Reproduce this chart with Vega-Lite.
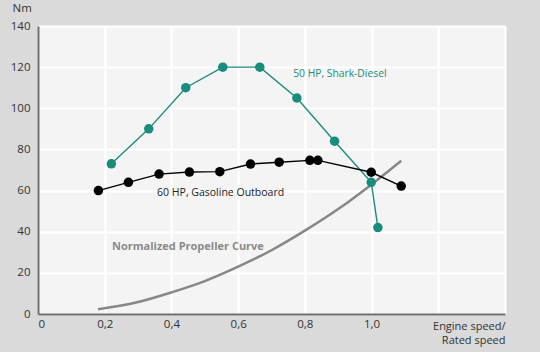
{
  "$schema": "https://vega.github.io/schema/vega-lite/v6.json",
  "width": 467,
  "height": 288,
  "autosize": {"type": "none"},
  "padding": {"left": 38, "top": 26, "right": 35, "bottom": 38},
  "background": "#dadada",
  "view": {"fill": "#f4f4f4", "stroke": null},
  "config": {
    "font": "Open Sans",
    "axis": {"labelFont": "Open Sans", "titleFont": "Open Sans", "labelColor": "#333333", "titleColor": "#333333", "labelFontSize": 11.5, "titleFontSize": 11, "titleFontWeight": "normal", "ticks": false, "domainColor": "#6e6e6e", "gridColor": "#ffffff", "gridWidth": 2}
  },
  "datasets": {
    "curves": [
      {"series": "diesel", "x": 0.22, "y": 73},
      {"series": "diesel", "x": 0.332, "y": 90},
      {"series": "diesel", "x": 0.443, "y": 110},
      {"series": "diesel", "x": 0.554, "y": 120},
      {"series": "diesel", "x": 0.665, "y": 120},
      {"series": "diesel", "x": 0.776, "y": 105},
      {"series": "diesel", "x": 0.889, "y": 84},
      {"series": "diesel", "x": 0.999, "y": 64},
      {"series": "diesel", "x": 1.019, "y": 42},
      {"series": "gas", "x": 0.181, "y": 60},
      {"series": "gas", "x": 0.271, "y": 64},
      {"series": "gas", "x": 0.363, "y": 68},
      {"series": "gas", "x": 0.454, "y": 69},
      {"series": "gas", "x": 0.545, "y": 69.2},
      {"series": "gas", "x": 0.637, "y": 72.9},
      {"series": "gas", "x": 0.723, "y": 73.8},
      {"series": "gas", "x": 0.815, "y": 74.7},
      {"series": "gas", "x": 0.839, "y": 74.7},
      {"series": "gas", "x": 0.999, "y": 68.9},
      {"series": "gas", "x": 1.089, "y": 62.2}
    ],
    "prop": [
      {"x": 0.18, "y": 2.3},
      {"x": 0.3, "y": 5.8},
      {"x": 0.4, "y": 10.5},
      {"x": 0.5, "y": 16},
      {"x": 0.6, "y": 23},
      {"x": 0.7, "y": 31},
      {"x": 0.8, "y": 40.5},
      {"x": 0.9, "y": 51},
      {"x": 1.0, "y": 63},
      {"x": 1.089, "y": 74.5}
    ],
    "labels": [
      {"label": "50 HP, Shark-Diesel", "x": 0.765, "y": 116.5, "kind": "diesel"},
      {"label": "60 HP, Gasoline Outboard", "x": 0.357, "y": 59, "kind": "gas"},
      {"label": "Normalized Propeller Curve", "x": 0.222, "y": 32.5, "kind": "prop"}
    ]
  },
  "layer": [
    {
      "data": {"name": "prop"},
      "mark": {"type": "line", "color": "#878787", "strokeWidth": 2.5, "interpolate": "monotone"},
      "encoding": {
        "x": {"field": "x", "type": "quantitative", "scale": {"domain": [0, 1.4], "nice": false},
          "axis": {"values": [0, 0.2, 0.4, 0.6, 0.8, 1.0, 1.2, 1.4], "labelExpr": "datum.value > 1.01 ? '' : (datum.value == 0 ? '0' : replace(format(datum.value, '.1f'), '.', ','))", "labelPadding": 4, "domainWidth": 2,
            "title": ["Engine speed/", "Rated speed"], "titleAlign": "right", "titleX": 467, "titleY": 6, "titleBaseline": "top", "titleLineHeight": 14}},
        "y": {"field": "y", "type": "quantitative", "scale": {"domain": [0, 140], "nice": false},
          "axis": {"values": [0, 20, 40, 60, 80, 100, 120, 140], "labelPadding": 8, "domainWidth": 2,
            "title": "Nm", "titleAngle": 0, "titleAlign": "left", "titleX": -26, "titleY": -18, "titleBaseline": "middle", "titleFontSize": 11.5}}
      }
    },
    {
      "data": {"name": "curves"},
      "mark": {"type": "line", "strokeWidth": 1.4},
      "encoding": {
        "x": {"field": "x", "type": "quantitative"},
        "y": {"field": "y", "type": "quantitative"},
        "color": {"field": "series", "type": "nominal", "scale": {"domain": ["diesel", "gas"], "range": ["#1a8c7c", "#000000"]}, "legend": null}
      }
    },
    {
      "data": {"name": "curves"},
      "mark": {"type": "point", "filled": true, "opacity": 1, "size": 90},
      "encoding": {
        "x": {"field": "x", "type": "quantitative"},
        "y": {"field": "y", "type": "quantitative"},
        "color": {"field": "series", "type": "nominal", "scale": {"domain": ["diesel", "gas"], "range": ["#1a8c7c", "#000000"]}, "legend": null}
      }
    },
    {
      "data": {"name": "labels"},
      "transform": [{"filter": "datum.kind == 'diesel'"}],
      "mark": {"type": "text", "align": "left", "baseline": "middle", "fontSize": 10.3, "color": "#1a8c7c"},
      "encoding": {"x": {"field": "x", "type": "quantitative"}, "y": {"field": "y", "type": "quantitative"}, "text": {"field": "label"}}
    },
    {
      "data": {"name": "labels"},
      "transform": [{"filter": "datum.kind == 'gas'"}],
      "mark": {"type": "text", "align": "left", "baseline": "middle", "fontSize": 10.5, "color": "#222222"},
      "encoding": {"x": {"field": "x", "type": "quantitative"}, "y": {"field": "y", "type": "quantitative"}, "text": {"field": "label"}}
    },
    {
      "data": {"name": "labels"},
      "transform": [{"filter": "datum.kind == 'prop'"}],
      "mark": {"type": "text", "align": "left", "baseline": "middle", "fontSize": 11, "fontWeight": "bold", "color": "#8a8a8a"},
      "encoding": {"x": {"field": "x", "type": "quantitative"}, "y": {"field": "y", "type": "quantitative"}, "text": {"field": "label"}}
    }
  ]
}
